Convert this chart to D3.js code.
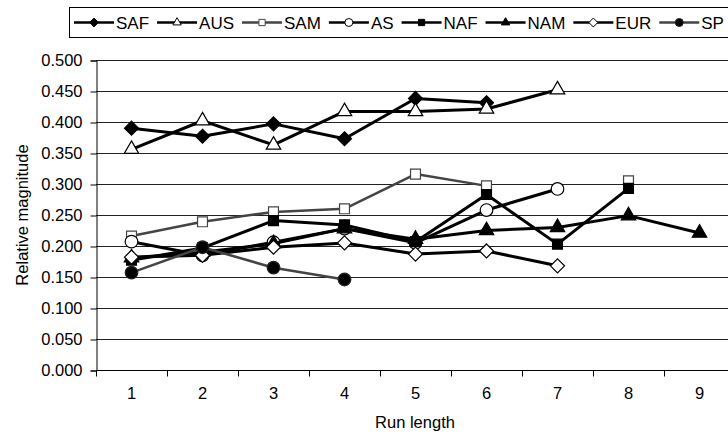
<!DOCTYPE html>
<html>
<head>
<meta charset="utf-8">
<script src="https://cdn.jsdelivr.net/npm/d3@7"></script>
<style>
  body { margin: 0; background: #fff; }
  svg { font-family: "Liberation Sans", Arial, sans-serif; }
</style>
</head>
<body>
<div id="chart"></div>
<script>
var width = 728;
var height = 432;

// run lengths 1..9
var runLengths = [1, 2, 3, 4, 5, 6, 7, 8, 9];
var yTicks = [0, 0.05, 0.1, 0.15, 0.2, 0.25, 0.3, 0.35, 0.4, 0.45, 0.5];

// series values (null = no point)
var SAF = [0.390, 0.377, 0.397, 0.373, 0.438, 0.431, null, null, null];
var AUS = [0.356, 0.402, 0.363, 0.417, 0.417, 0.421, 0.452, null, null];
var SAM = [0.216, 0.239, 0.255, 0.260, 0.316, 0.297, null, 0.305, null];
var AS  = [0.207, 0.185, 0.206, 0.228, 0.205, 0.258, 0.292, null, null];
var NAF = [0.177, 0.197, 0.241, 0.234, 0.207, 0.283, 0.203, 0.293, null];
var NAM = [0.181, 0.190, 0.204, 0.228, 0.211, 0.225, 0.230, 0.249, 0.221];
var EUR = [0.182, 0.185, 0.198, 0.205, 0.187, 0.192, 0.168, null, null];
var SP  = [0.157, 0.198, 0.165, 0.146, null, null, null, null, null];

var seriesNames = ["SAF", "AUS", "SAM", "AS", "NAF", "NAM", "EUR", "SP"];
var seriesValues = [SAF, AUS, SAM, AS, NAF, NAM, EUR, SP];

// marker styles
var styles = {
  SAF: { shape: d3.symbolDiamond2, fill: "#000", stroke: "#000", line: "#000" },
  AUS: { shape: d3.symbolTriangle2, fill: "#fff", stroke: "#000", line: "#000" },
  SAM: { shape: d3.symbolSquare2, fill: "#fff", stroke: "#444", line: "#444" },
  AS:  { shape: d3.symbolCircle, fill: "#fff", stroke: "#000", line: "#000" },
  NAF: { shape: d3.symbolSquare2, fill: "#000", stroke: "#000", line: "#000" },
  NAM: { shape: d3.symbolTriangle2, fill: "#000", stroke: "#000", line: "#000" },
  EUR: { shape: d3.symbolDiamond2, fill: "#fff", stroke: "#000", line: "#000" },
  SP:  { shape: d3.symbolCircle, fill: "#000", stroke: "#222", line: "#444" }
};

var svg = d3.select("#chart")
    .append("svg")
    .attr("width", width)
    .attr("height", height);

var x = d3.scaleBand().domain(runLengths).range([96, 735]);
var y = d3.scaleLinear().domain([0, 0.5]).range([370, 60]);

// gridlines
svg.append("g")
    .selectAll("line")
    .data(yTicks.slice(1))
    .enter().append("line")
    .attr("x1", 96)
    .attr("x2", 735)
    .attr("y1", function (d) { return Math.round(y(d)) + 0.5; })
    .attr("y2", function (d) { return Math.round(y(d)) + 0.5; })
    .attr("stroke", "#222")
    .attr("stroke-width", 1);

// y axis
var yAxis = svg.append("g")
    .attr("transform", "translate(96.5,0.5)")
    .call(d3.axisLeft(y).tickValues(yTicks).tickFormat(d3.format(".3f")).tickSize(6).tickPadding(8));
yAxis.select(".domain").attr("stroke", "#000");
yAxis.selectAll(".tick text").attr("font-size", 16.5).attr("fill", "#000")
    .attr("font-family", "'Liberation Sans', Arial, sans-serif");

// x axis
var xAxis = svg.append("g")
    .attr("transform", "translate(0,370.5)")
    .call(d3.axisBottom(x).tickSize(0).tickPadding(17));
xAxis.select(".domain").attr("stroke", "#000").attr("d", "M96.5,0H735");
xAxis.selectAll(".tick text").attr("font-size", 16.5).attr("fill", "#000")
    .attr("font-family", "'Liberation Sans', Arial, sans-serif");
// tick marks between categories
xAxis.selectAll(".sep")
    .data(runLengths)
    .enter().append("line")
    .attr("class", "sep")
    .attr("x1", function (d) { return Math.round(x(d)) + 0.5; })
    .attr("x2", function (d) { return Math.round(x(d)) + 0.5; })
    .attr("y1", 0)
    .attr("y2", 6)
    .attr("stroke", "#000");

// axis titles
svg.append("text")
    .attr("x", 415)
    .attr("y", 428)
    .attr("text-anchor", "middle")
    .attr("font-size", 16.5)
    .text("Run length");

svg.append("text")
    .attr("transform", "translate(28,215) rotate(-90)")
    .attr("text-anchor", "middle")
    .attr("font-size", 16.5)
    .text("Relative magnitude");

// series lines and markers
var line = d3.line()
    .defined(function (d) { return d.v !== null; })
    .x(function (d) { return x(d.r) + x.bandwidth() / 2; })
    .y(function (d) { return y(d.v); });

seriesNames.forEach(function (name, i) {
  var st = styles[name];
  var pts = runLengths.map(function (r, j) { return { r: r, v: seriesValues[i][j] }; });
  var g = svg.append("g");
  g.append("path")
      .datum(pts)
      .attr("fill", "none")
      .attr("stroke", st.line)
      .attr("stroke-width", name === "SAM" || name === "SP" ? 2.5 : 3)
      .attr("stroke-linejoin", "round")
      .attr("d", line);
  g.selectAll("path.mark")
      .data(pts.filter(function (d) { return d.v !== null; }))
      .enter().append("path")
      .attr("class", "mark")
      .attr("transform", function (d) { return "translate(" + (x(d.r) + x.bandwidth() / 2) + "," + y(d.v) + ")"; })
      .attr("d", d3.symbol().type(st.shape).size(st.shape === d3.symbolTriangle2 ? 150 : 125))
      .attr("fill", st.fill)
      .attr("stroke", st.stroke)
      .attr("stroke-width", 1.2);
});

// legend
var legend = svg.append("g");
legend.append("rect")
    .attr("x", 69.5)
    .attr("y", 7.5)
    .attr("width", 700)
    .attr("height", 30)
    .attr("fill", "#fff")
    .attr("stroke", "#000");

var lx = 74;
seriesNames.forEach(function (name) {
  var st = styles[name];
  var item = legend.append("g");
  item.append("line")
      .attr("x1", lx).attr("x2", lx + 40)
      .attr("y1", 22.5).attr("y2", 22.5)
      .attr("stroke", st.line)
      .attr("stroke-width", 2.5);
  item.append("path")
      .attr("transform", "translate(" + (lx + 20) + ",22.5)")
      .attr("d", d3.symbol().type(st.shape).size(50))
      .attr("fill", st.fill)
      .attr("stroke", st.stroke)
      .attr("stroke-width", 1);
  var t = item.append("text")
      .attr("x", lx + 42)
      .attr("y", 28.5)
      .attr("font-size", 17)
      .text(name);
  lx = lx + 42 + t.node().getComputedTextLength() + 8;
});
</script>
</body>
</html>
